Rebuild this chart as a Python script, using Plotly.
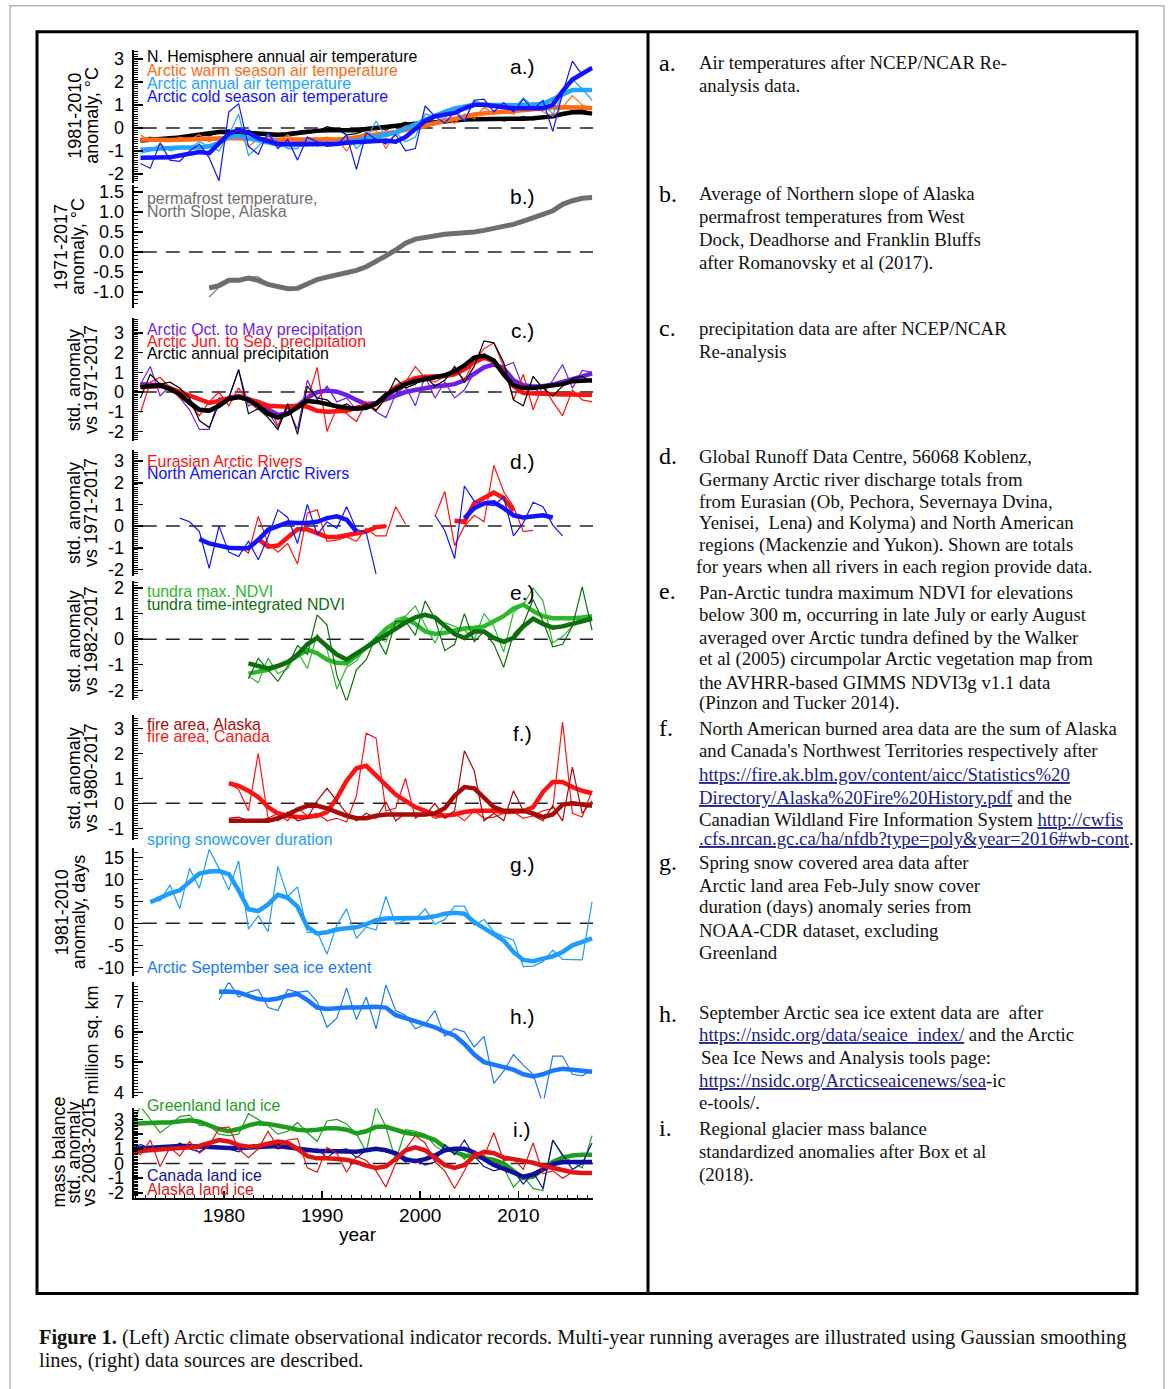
import plotly.graph_objects as go

W, H = 1168, 1389

# ======================= DATA =======================
X_TICKS = [1980, 1990, 2000, 2010]
X_TICK_LABELS = ["1980", "1990", "2000", "2010"]

# a) air temperature anomalies, 1971-2017
A_START = 1971
nh_air = [-0.55, -0.4, -0.6, -0.5, -0.35, -0.45, -0.3, -0.35, -0.2, -0.1,
          -0.25, -0.1, -0.3, -0.35, -0.35, -0.2, -0.15, -0.1, -0.15, 0.05,
          -0.05, -0.3, -0.25, -0.1, 0.05, -0.1, 0.1, 0.25, 0.1, 0.1,
          0.25, 0.3, 0.35, 0.3, 0.45, 0.4, 0.45, 0.3, 0.35, 0.5,
          0.35, 0.45, 0.45, 0.55, 0.75, 0.8, 0.6]
nh_air_s = [-0.55, -0.52, -0.5, -0.47, -0.42, -0.35, -0.28, -0.22, -0.18, -0.17,
            -0.2, -0.25, -0.28, -0.3, -0.3, -0.28, -0.22, -0.17, -0.13, -0.1,
            -0.1, -0.12, -0.1, -0.05, 0.0, 0.05, 0.1, 0.15, 0.18, 0.2,
            0.25, 0.3, 0.33, 0.36, 0.38, 0.38, 0.37, 0.36, 0.37, 0.4,
            0.42, 0.45, 0.5, 0.6, 0.68, 0.68, 0.62]
warm_air = [-0.3, -0.6, -0.5, -0.6, -0.4, -0.5, -0.3, -0.6, -0.4, -0.4,
            -0.3, -0.8, -0.5, -0.6, -0.6, -0.3, -0.6, -0.5, -0.5, -0.4,
            -0.5, -1.0, -0.4, -0.2, -0.1, -0.9, -0.2, 0.1, -0.1, 0.0,
            0.2, 0.4, 0.2, 0.6, 0.4, 0.9, 0.6, 0.7, 0.6, 0.9,
            1.1, 0.7, 0.5, 0.9, 1.4, 1.0, 0.8]
warm_air_s = [-0.5, -0.52, -0.53, -0.53, -0.52, -0.5, -0.5, -0.5, -0.48, -0.45,
              -0.45, -0.47, -0.5, -0.52, -0.52, -0.5, -0.5, -0.5, -0.52, -0.52,
              -0.5, -0.47, -0.42, -0.37, -0.32, -0.27, -0.18, -0.08, 0.02, 0.12,
              0.22, 0.32, 0.42, 0.52, 0.58, 0.63, 0.67, 0.7, 0.72, 0.77,
              0.82, 0.85, 0.88, 0.9, 0.9, 0.88, 0.85]
ann_air = [-1.1, -1.0, -0.7, -1.0, -0.9, -0.9, -0.6, -0.8, -1.0, -0.3,
           0.6, -1.2, -0.8, -0.3, -0.6, -0.9, -0.9, -0.4, -0.8, -0.6,
           -0.7, -0.3, -0.9, -0.5, 0.3, -0.4, -0.2, -0.6, -0.4, 0.6,
           0.5, 0.4, 0.9, 0.3, 1.2, 1.0, 0.9, 1.0, 0.8, 1.3,
           0.95, 1.1, 0.6, 1.4, 2.1, 1.7, 1.2]
ann_air_s = [-0.95, -0.92, -0.9, -0.88, -0.85, -0.85, -0.85, -0.8, -0.65, -0.4,
             -0.35, -0.45, -0.55, -0.65, -0.72, -0.75, -0.75, -0.72, -0.7, -0.7,
             -0.68, -0.62, -0.55, -0.48, -0.4, -0.3, -0.2, -0.05, 0.15, 0.35,
             0.55, 0.7, 0.85, 0.95, 1.0, 1.0, 0.98, 0.97, 0.98, 1.0,
             1.0, 1.05, 1.25, 1.5, 1.65, 1.65, 1.65]
cold_air = [-1.55, -1.75, -0.65, -1.4, -1.45, -1.0, -0.7, -1.3, -2.3, 0.7,
            1.05, -0.8, -1.15, -0.2, -0.9, -0.5, -1.4, -0.4, -0.6, -0.8,
            -0.75, -0.3, -1.8, -0.2, -0.5, -0.7, -0.3, -1.0, -0.9, 0.95,
            0.5, 0.2, 0.7, 0.3, 1.2, 1.25, 0.7, 1.1, 0.7, 1.25,
            0.8, 1.2, -0.15, 1.5, 2.9, 2.3, 2.65]
cold_air_s = [-1.3, -1.3, -1.3, -1.28, -1.2, -1.1, -1.05, -1.1, -0.7, -0.25,
              -0.1, -0.2, -0.45, -0.6, -0.7, -0.7, -0.7, -0.68, -0.68, -0.7,
              -0.7, -0.65, -0.62, -0.62, -0.6, -0.55, -0.6, -0.4, -0.05, 0.3,
              0.5, 0.6, 0.65, 0.85, 1.0, 1.0, 0.95, 0.88, 0.85, 0.85,
              0.85, 0.85, 1.0, 1.6, 2.1, 2.35, 2.6]

# b) permafrost temperature, 1978-2017
B_START = 1978
perma = [-1.13, -0.88, -0.75, -0.68, -0.62, -0.62, -0.8, -0.88, -0.92, -0.9,
         -0.8, -0.7, -0.63, -0.58, -0.56, -0.5, -0.38, -0.25, -0.1, 0.05,
         0.22, 0.33, 0.37, 0.41, 0.44, 0.46, 0.47, 0.5, 0.55, 0.58,
         0.62, 0.69, 0.77, 0.85, 0.94, 1.03, 1.2, 1.27, 1.33, 1.37]
perma_s = [-0.9, -0.84, -0.71, -0.71, -0.65, -0.71, -0.81, -0.88, -0.92, -0.91,
           -0.81, -0.69, -0.63, -0.58, -0.54, -0.46, -0.37, -0.25, -0.1, 0.05,
           0.22, 0.32, 0.37, 0.41, 0.44, 0.46, 0.47, 0.5, 0.54, 0.58,
           0.62, 0.69, 0.77, 0.84, 0.94, 1.03, 1.19, 1.28, 1.34, 1.36]

# c) precipitation, 1971-2017
C_START = 1971
prec_octmay = [0.4, 1.3, -0.2, 0.3, -0.3, -0.9, -1.9, -1.9, -0.3, -0.3,
               1.1, -0.7, -0.5, -1.0, -1.8, -0.8, -1.9, 0.6, -0.4, 0.3,
               -0.5, -0.3, -0.9, -0.6, -1.0, -1.3, -0.1, 0.3, -0.7, 0.8,
               -0.3, 0.5, -0.3, 0.1, 1.0, 1.2, 1.5, 1.3, 1.5, 0.2,
               0.2, -0.1, 0.6, 1.4, 0.2, 1.1, 1.0]
prec_octmay_s = [0.4, 0.38, 0.35, 0.2, -0.1, -0.5, -0.9, -0.95, -0.7, -0.3,
                 -0.2, -0.35, -0.6, -0.9, -1.15, -1.1, -0.7, -0.3, 0.0, 0.08,
                 0.02, -0.15, -0.4, -0.62, -0.55, -0.35, -0.15, 0.0, 0.1, 0.2,
                 0.28, 0.33, 0.4, 0.6, 0.95, 1.25, 1.4, 1.2, 0.6, 0.35,
                 0.28, 0.3, 0.38, 0.5, 0.65, 0.8, 0.95]
prec_junsep = [-1.05, 0.5, 0.75, 0.2, -0.3, -0.6, -1.2, -0.5, 0.0, -0.7,
               0.2, -0.5, -0.9, -0.6, -1.7, -0.6, -0.9, -0.4, 1.25, -2.0,
               -0.8, -1.1, -1.5, -0.5, -0.9, -0.3, 0.2, 0.5, 1.3, 0.7,
               0.5, 0.8, 1.2, 0.6, 1.6, 2.2, 2.5, 1.3, -0.4, 0.9,
               -0.9, 0.4, -0.5, -1.2, 0.1, -0.4, -0.5]
prec_junsep_s = [0.25, 0.28, 0.3, 0.2, 0.0, -0.2, -0.4, -0.55, -0.45, -0.3,
                 -0.25, -0.35, -0.5, -0.7, -0.75, -0.75, -0.68, -0.75, -0.95, -1.0,
                 -0.98, -0.95, -0.8, -0.7, -0.6, -0.15, 0.25, 0.5, 0.7, 0.78,
                 0.8, 0.82, 0.9, 1.15, 1.5, 1.75, 1.55, 0.9, 0.3, -0.05,
                 -0.08, -0.1, -0.1, -0.12, -0.13, -0.15, -0.15]
prec_ann = [-0.3, 0.9, 0.4, 0.5, 0.2, -0.3, -1.45, -1.8, -0.6, -0.3,
            1.15, -1.1, -0.85, -1.3, -1.9, -0.6, -2.15, 0.3, -0.3, -0.4,
            -0.8, -0.6, -0.9, -0.6, -0.95, -0.3, 0.7, 0.2, 0.4, 0.8,
            0.3, 0.6, 1.3, 0.5, 1.3, 2.6, 2.5, 1.5, -0.4, -0.7,
            0.8, 0.2, -0.2, 0.3, 0.7, 0.8, 0.5]
prec_ann_s = [0.25, 0.3, 0.35, 0.15, -0.1, -0.55, -0.9, -0.95, -0.7, -0.35,
              -0.25, -0.4, -0.7, -1.1, -1.3, -1.1, -0.8, -0.45, -0.5, -0.62,
              -0.72, -0.8, -0.85, -0.8, -0.6, -0.15, 0.15, 0.4, 0.55, 0.65,
              0.72, 0.85, 1.05, 1.35, 1.75, 1.85, 1.6, 0.9, 0.35, 0.2,
              0.2, 0.25, 0.3, 0.4, 0.55, 0.58, 0.6]

# d) river discharge, 1975-2017 (None = no data)
D_START = 1975
nam_riv = [0.37, 0.2, -0.25, -1.95, 0.0, -1.2, -1.4, -0.7, -1.55, -0.5,
           0.75, 0.4, -0.8, 1.0, -0.4, 0.2, -0.1, 0.9, -0.15, -0.3,
           -2.2, None, None, None, None, None, 0.5, -0.2, -1.5, 1.85,
           1.15, 1.0, 0.95, 1.35, -0.45, 0.15, 1.1, 0.9, 0.05, -0.45,
           None, None, None]
nam_riv_s = [None, None, -0.6, -0.8, -0.9, -1.0, -1.02, -1.02, -0.63, -0.17,
             0.0, 0.17, 0.14, 0.14, 0.2, 0.37, 0.45, 0.3, -0.25, None,
             None, None, None, None, None, None, None, None, None, 0.37,
             0.83, 1.05, 1.1, 0.83, 0.5, 0.4, 0.45, 0.5, 0.4, None,
             None, None, None]
eur_riv = [None, None, None, None, None, None, -0.9, -1.25, 0.45, -0.8,
           -1.2, -0.8, -1.75, 0.6, 0.75, -0.7, -0.65, -0.5, -0.7, -0.1,
           -0.45, -0.45, 0.9, 0.1, None, None, 0.45, 1.6, -0.9, 0.0,
           0.5, 0.2, 2.8, 1.6, 0.9, -0.25, -0.2, None, None, None,
           None, None, None]
eur_riv_s = [None, None, None, None, None, None, None, None, -0.6, -0.95,
             -0.9, -0.55, -0.15, -0.15, -0.3, -0.5, -0.5, -0.4, -0.35, -0.25,
             -0.05, 0.0, None, None, None, None, None, None, 0.25, 0.2,
             1.05, 1.3, 1.55, 1.3, 0.7, None, None, None, None, None,
             None, None, None]

# e) tundra NDVI, 1982-2017
E_START = 1982
ndvi_max = [-1.45, -1.7, -0.75, -1.35, -1.15, -0.5, -1.15, 0.2, -0.4, -1.95,
            -1.1, -0.85, -0.27, 0.05, -0.1, 0.8, 0.9, 1.3, 0.55, -0.15,
            0.65, 0.5, 0.35, 0.0, 1.0, 0.5, -0.5, 1.05, 1.35, 2.0,
            1.5, -0.15, 0.1, 0.5, 0.9, 0.75]
ndvi_max_s = [-1.35, -1.28, -1.2, -1.05, -0.9, -0.65, -0.42, -0.55, -0.8, -0.92,
              -0.95, -0.65, -0.35, 0.0, 0.4, 0.65, 0.8, 0.6, 0.3, 0.2,
              0.25, 0.35, 0.42, 0.45, 0.5, 0.7, 0.9, 1.2, 1.35, 1.1,
              0.9, 0.82, 0.8, 0.82, 0.85, 0.9]
ndvi_ti = [-1.55, -0.75, -1.2, -1.65, -1.05, -0.25, -0.6, 0.95, 0.55, -1.4,
           -2.45, -1.2, -0.8, 0.1, -0.6, 0.7, 0.7, 0.15, 1.5, 0.8,
           -0.45, -0.2, 1.0, -0.1, 0.3, -0.2, -1.1, 0.2, 0.6, 1.55,
           0.7, -0.3, -0.2, 0.5, 2.05, 0.35]
ndvi_ti_s = [-0.95, -1.05, -1.15, -1.05, -0.9, -0.6, -0.2, 0.05, -0.3, -0.6,
             -0.8, -0.55, -0.3, -0.05, 0.15, 0.4, 0.65, 0.85, 0.95, 0.85,
             0.5, 0.2, 0.05, 0.3, 0.3, 0.05, -0.1, 0.05, 0.5, 0.8,
             0.6, 0.45, 0.5, 0.6, 0.7, 0.8]

# f) fire area, 1980-2017
F_START = 1980
fire_ak = [-0.6, -0.55, -0.7, -0.7, -0.6, -0.7, -0.35, -0.7, -0.6, 0.1,
           0.6, 0.1, -0.4, -0.7, -0.4, -0.6, 0.05, -0.7, -0.4, -0.5,
           -0.5, 0.0, -0.6, -0.3, 2.1, 1.3, -0.7, -0.4, -0.7, 0.5,
           -0.3, -0.5, -0.7, -0.1, -0.7, 1.45, -0.4, 0.1]
fire_ak_s = [-0.7, -0.7, -0.72, -0.72, -0.7, -0.6, -0.45, -0.25, -0.1, -0.1,
             -0.2, -0.35, -0.5, -0.6, -0.6, -0.5, -0.45, -0.45, -0.45, -0.45,
             -0.45, -0.4, -0.2, 0.3, 0.65, 0.6, 0.2, -0.15, -0.3, -0.3,
             -0.3, -0.4, -0.55, -0.45, -0.05, 0.0, -0.05, -0.1]
fire_ca = [0.8, 0.55, -0.3, 2.0, -0.6, -0.4, -0.7, -0.2, -0.5, -0.4,
           -0.7, -0.6, -0.75, 0.3, 2.8, 2.6, -0.3, -0.2, 1.0, -0.6,
           -0.35, -0.6, -0.5, -0.4, -0.7, -0.3, -0.6, -0.55, -0.4, -0.35,
           -0.6, -0.5, -0.3, -0.2, 3.25, -0.4, -0.55, 0.5]
fire_ca_s = [0.8, 0.7, 0.5, 0.25, -0.15, -0.4, -0.5, -0.55, -0.55, -0.5,
             -0.35, 0.2, 0.9, 1.4, 1.5, 1.1, 0.7, 0.35, 0.1, -0.15,
             -0.3, -0.45, -0.5, -0.45, -0.35, -0.3, -0.3, -0.3, -0.35, -0.35,
             -0.32, -0.15, 0.45, 0.85, 0.85, 0.65, 0.5, 0.4]

# g) spring snow cover duration anomaly, 1972-2017
G_START = 1972
snow = [5.3, 5.1, 8.7, 3.3, 12.5, 8.0, 16.8, 12.5, 7.6, 14.2,
        -1.3, 1.7, -1.9, 12.9, 6.1, 8.3, -2.1, -1.9, -7.0, -0.4,
        3.3, -3.4, -0.8, -1.5, 6.1, -0.2, 0.8, 0.9, 3.3, -0.2,
        0.9, 3.9, 3.9, -0.4, 0.9, -1.9, -3.0, -3.8, -9.8, -9.7,
        -8.7, -6.1, -8.2, -8.2, -8.3, 4.9]
snow_s = [4.8, 5.8, 6.8, 7.5, 9.5, 11.3, 11.8, 11.9, 11.2, 7.5,
          3.2, 2.8, 4.3, 6.5, 5.8, 3.8, -0.8, -2.3, -2.0, -1.4,
          -1.1, -0.9, -0.2, 0.7, 1.1, 1.1, 1.1, 1.1, 1.3, 1.6,
          2.2, 2.4, 2.2, 0.3, -1.0, -2.5, -3.9, -6.5, -8.3, -8.6,
          -8.0, -7.5, -6.5, -5.0, -4.2, -3.4]

# h) September sea ice extent (million sq. km), 1979-2017
H_START = 1979
seaice = [7.05, 7.65, 7.15, 7.3, 7.4, 6.8, 6.7, 7.4, 7.3, 7.35,
          7.0, 6.15, 6.45, 7.45, 6.4, 7.15, 6.1, 7.55, 6.7, 6.55,
          6.1, 6.25, 6.7, 5.85, 6.1, 6.0, 5.5, 5.85, 4.3, 4.7,
          5.25, 4.9, 4.6, 3.6, 5.2, 5.2, 4.6, 4.55, 4.75]
seaice_s = [7.32, 7.33, 7.3, 7.2, 7.08, 7.05, 7.1, 7.2, 7.25, 7.05,
            6.8, 6.75, 6.78, 6.8, 6.8, 6.82, 6.83, 6.8, 6.55, 6.45,
            6.35, 6.25, 6.15, 6.0, 5.88, 5.6, 5.25, 5.0, 4.92, 4.85,
            4.75, 4.6, 4.53, 4.6, 4.72, 4.78, 4.75, 4.7, 4.68]

# i) land ice mass balance, 1970-2017
I_START = 1970
gris = [2.4, 3.9, 3.0, 2.1, 2.6, 3.2, 3.3, 2.6, 2.6, 2.0,
        1.9, 2.0, 3.4, 3.0, 2.6, 2.0, 2.2, 2.8, 2.1, 1.5,
        2.9, 3.0, 2.7, 2.0, 0.8, 3.9, 2.5, 0.2, 2.3, 2.2,
        2.0, 1.2, 0.8, 1.0, 0.3, 0.8, 0.4, 0.2, -0.3, -1.6,
        -0.9, -1.7, -1.85, 1.6, 0.5, 0.1, -0.3, 1.9]
gris_s = [2.7, 2.75, 2.75, 2.8, 2.8, 2.9, 2.95, 2.85, 2.6, 2.35,
          2.2, 2.35, 2.6, 2.75, 2.7, 2.6, 2.45, 2.3, 2.25, 2.3,
          2.4, 2.4, 2.3, 2.05, 2.2, 2.5, 2.5, 2.3, 2.1, 2.0,
          1.85, 1.6, 1.1, 0.8, 0.55, 0.5, 0.4, 0.25, 0.0, -0.5,
          -1.0, -0.9, -0.4, 0.1, 0.4, 0.55, 0.6, 0.6]
can_ice = [0.9, 1.3, 1.0, 1.2, 0.9, 1.4, 1.0, 0.8, 1.2, 1.1,
           1.0, 0.8, 1.2, 1.0, 1.3, 1.0, 1.2, 1.0, 0.8, 1.0,
           0.4, 0.9, 1.0, 0.4, 0.9, 1.1, 0.8, 0.6, 0.1, 0.3,
           -0.1, 0.1, 1.3, 0.6, 1.6, 0.5, -0.2, -0.5, -0.3, -0.5,
           -1.4, -0.6, -1.7, 1.6, 0.6, -0.4, 0.0, 1.4]
can_ice_s = [1.0, 1.05, 1.1, 1.1, 1.15, 1.2, 1.2, 1.15, 1.1, 1.1,
             1.05, 1.05, 1.1, 1.15, 1.2, 1.2, 1.1, 1.0, 0.9, 0.85,
             0.85, 0.85, 0.8, 0.8, 0.9, 1.0, 0.9, 0.7, 0.3, 0.15,
             0.3, 0.55, 0.9, 1.0, 1.0, 0.75, 0.3, -0.1, -0.35, -0.6,
             -0.9, -0.75, -0.4, -0.05, 0.1, 0.1, 0.1, 0.1]
ak_ice = [1.0, 0.6, 1.6, -0.2, 1.1, 0.5, 1.5, 0.7, 1.2, 2.4,
          2.5, 1.0, 0.4, 1.0, 2.2, 1.1, 1.6, 1.7, -0.3, -0.6,
          1.1, 0.7, -0.6, 0.5, 0.2, -0.5, -1.6, 0.0, 1.0, 1.9,
          1.4, 0.1, -0.5, -1.7, -0.5, 0.8, 0.5, 2.1, 0.2, 0.3,
          -0.4, 1.4, -0.7, -0.5, -1.0, -0.6, -0.7, -0.7]
ak_ice_s = [0.8, 0.85, 0.9, 0.9, 0.95, 1.0, 1.1, 1.2, 1.4, 1.6,
            1.5, 1.25, 1.15, 1.2, 1.35, 1.5, 1.4, 1.0, 0.5, 0.35,
            0.35, 0.3, 0.25, 0.1, -0.15, -0.3, -0.2, 0.3, 0.9, 1.1,
            0.9, 0.4, -0.1, -0.3, -0.1, 0.5, 0.8, 0.7, 0.4, 0.3,
            0.2, 0.05, -0.15, -0.3, -0.45, -0.6, -0.65, -0.65]

# y tick values / labels per panel
TICKS_STD = [-2, -1, 0, 1, 2, 3]
LABELS_STD = ["-2", "-1", "0", "1", "2", "3"]
TICKS_B = [-1.0, -0.5, 0.0, 0.5, 1.0, 1.5]
LABELS_B = ["-1.0", "-0.5", "0.0", "0.5", "1.0", "1.5"]
TICKS_E = [-2, -1, 0, 1, 2]
LABELS_E = ["-2", "-1", "0", "1", "2"]
TICKS_F = [-1, 0, 1, 2, 3]
LABELS_F = ["-1", "0", "1", "2", "3"]
TICKS_G = [-10, -5, 0, 5, 10, 15]
LABELS_G = ["-10", "-5", "0", "5", "10", "15"]
TICKS_H = [4, 5, 6, 7]
LABELS_H = ["4", "5", "6", "7"]

# ======================= STYLE =======================
SANS = "Liberation Sans, Arial, Helvetica, sans-serif"
SERIF = "Liberation Serif, Times New Roman, serif"

C_BLACK = "#000000"
C_ORANGE = "#ff6a14"
C_LBLUE = "#22a4ff"
C_BLUE = "#1212ff"
C_GRAY = "#6e6e6e"
C_PURPLE = "#6e1fe6"
C_RED = "#ff1212"
C_LGREEN = "#2cb82c"
C_DGREEN = "#0c6e0c"
C_DRED = "#a80a0a"
C_SNOW = "#1e9cff"
C_ICE = "#1a78ff"
C_GRIS = "#1c9e1c"
C_NAVY = "#10109c"
C_AKRED = "#e01414"
C_LINK = "#20208c"

THIN, THICK = 1.2, 4.5

# small vertical correction so that rendered pixel rows match the reference
V_OFF, V_SCALE = 3.2, 0.9929


def xp(px):
    return px / W


def yp(py):
    return 1 - ((py - V_OFF) / V_SCALE) / H


# panel layout: pixel top/bottom of each axis, value range, ticks
panels = [
    dict(top=50, bot=183, rng=[-2.39, 3.39], tv=TICKS_STD, tt=LABELS_STD, minor=0.1),
    dict(top=185, bot=308, rng=[-1.4, 1.675], tv=TICKS_B, tt=LABELS_B, minor=0.1),
    dict(top=318, bot=441, rng=[-2.49, 3.76], tv=TICKS_STD, tt=LABELS_STD, minor=0.1),
    dict(top=450, bot=576, rng=[-2.31, 3.51], tv=TICKS_STD, tt=LABELS_STD, minor=0.1),
    dict(top=581, bot=700, rng=[-2.39, 2.27], tv=TICKS_E, tt=LABELS_E, minor=0.1),
    dict(top=715, bot=840, rng=[-1.48, 3.52], tv=TICKS_F, tt=LABELS_F, minor=0.1),
    dict(top=848, bot=976, rng=[-12.05, 17.05], tv=TICKS_G, tt=LABELS_G, minor=1),
    dict(top=982, bot=1098, rng=[3.8, 7.63], tv=TICKS_H, tt=LABELS_H, minor=0.1),
    dict(top=1108, bot=1197, rng=[-2.32, 3.75], tv=TICKS_STD, tt=LABELS_STD, minor=0.1),
]


def yname(i):
    return "y" if i == 0 else f"y{i + 1}"


fig = go.Figure()


def add(i, start, vals, color, width):
    xs = [start + k + 0.5 for k in range(len(vals))]  # annual values at mid-year
    fig.add_trace(go.Scatter(x=xs, y=vals, mode="lines", xaxis="x", yaxis=yname(i),
                             line=dict(color=color, width=width), connectgaps=False,
                             showlegend=False, hoverinfo="skip"))


# a
for raw, sm, col in [(nh_air, nh_air_s, C_BLACK), (warm_air, warm_air_s, C_ORANGE),
                     (ann_air, ann_air_s, C_LBLUE), (cold_air, cold_air_s, C_BLUE)]:
    add(0, A_START, raw, col, THIN)
    add(0, A_START, sm, col, THICK)
# b
add(1, B_START, perma, C_GRAY, THIN)
add(1, B_START, perma_s, C_GRAY, 5)
# c
for raw, sm, col in [(prec_octmay, prec_octmay_s, C_PURPLE), (prec_junsep, prec_junsep_s, C_RED),
                     (prec_ann, prec_ann_s, C_BLACK)]:
    add(2, C_START, raw, col, THIN)
    add(2, C_START, sm, col, THICK)
# d
for raw, sm, col in [(eur_riv, eur_riv_s, C_RED), (nam_riv, nam_riv_s, C_BLUE)]:
    add(3, D_START, raw, col, THIN)
    add(3, D_START, sm, col, THICK)
# e
for raw, sm, col in [(ndvi_max, ndvi_max_s, C_LGREEN), (ndvi_ti, ndvi_ti_s, C_DGREEN)]:
    add(4, E_START, raw, col, THIN)
    add(4, E_START, sm, col, THICK)
# f
for raw, sm, col in [(fire_ca, fire_ca_s, C_RED), (fire_ak, fire_ak_s, C_DRED)]:
    add(5, F_START, raw, col, THIN)
    add(5, F_START, sm, col, THICK)
# g
add(6, G_START, snow, C_SNOW, THIN)
add(6, G_START, snow_s, C_SNOW, THICK)
# h
add(7, H_START, seaice, C_ICE, THIN)
add(7, H_START, seaice_s, C_ICE, THICK)
# i
for raw, sm, col in [(gris, gris_s, C_GRIS), (can_ice, can_ice_s, C_NAVY), (ak_ice, ak_ice_s, C_AKRED)]:
    add(8, I_START, raw, col, THIN)
    add(8, I_START, sm, col, THICK)

X_LEFT, X_RIGHT = 133.6, 593.0
layout = dict(
    width=W, height=H, margin=dict(l=0, r=0, t=0, b=0),
    paper_bgcolor="white", plot_bgcolor="rgba(0,0,0,0)",
    showlegend=False, font=dict(family=SANS, color="black"),
    xaxis=dict(domain=[xp(X_LEFT), xp(X_RIGHT)], range=[1970.8, 2017.6], anchor="y9",
               showline=True, linecolor="black", linewidth=2, mirror=False,
               tickmode="array", tickvals=X_TICKS, ticktext=X_TICK_LABELS,
               ticks="inside", ticklen=7, tickwidth=1.5, tickcolor="black",
               minor=dict(ticks="inside", dtick=1, ticklen=3, tickcolor="black", tickwidth=1),
               tickfont=dict(size=19, family=SANS), showgrid=False, zeroline=False,
               fixedrange=True),
)
shapes = []
for i, p in enumerate(panels):
    key = "yaxis" if i == 0 else f"yaxis{i + 1}"
    layout[key] = dict(
        domain=[yp(p["bot"]), yp(p["top"])], range=p["rng"], anchor="x",
        showline=True, linecolor="black", linewidth=2,
        tickmode="array", tickvals=p["tv"], ticktext=p["tt"],
        ticks="inside", ticklen=9, tickwidth=1.5, tickcolor="black",
        minor=dict(ticks="inside", dtick=p["minor"], tick0=0, ticklen=4,
                   tickcolor="black", tickwidth=1, showgrid=False),
        tickfont=dict(size=18, family=SANS), ticklabelstandoff=4,
        showgrid=False, zeroline=False, fixedrange=True,
    )
    if i != 7:
        shapes.append(dict(type="line", xref="x domain", x0=0.02, x1=1,
                           yref=yname(i), y0=0, y1=0, layer="below",
                           line=dict(color="#222222", width=1.5, dash="14px,9px")))

# frames
shapes.append(dict(type="rect", xref="paper", yref="paper", x0=xp(10), x1=xp(1164),
                   y0=-0.02, y1=yp(6), line=dict(color="#b4b4b4", width=1.5)))
shapes.append(dict(type="rect", xref="paper", yref="paper", x0=xp(37), x1=xp(1137),
                   y0=yp(1293), y1=yp(32), line=dict(color="black", width=3)))
shapes.append(dict(type="line", xref="paper", yref="paper", x0=xp(648), x1=xp(648),
                   y0=yp(1293), y1=yp(32), line=dict(color="black", width=3)))
layout["shapes"] = shapes

ann = []


def text(x, y, s, size=15.9, color="black", family=SANS, xanchor="left", angle=0):
    ann.append(dict(x=xp(x), y=yp(y), xref="paper", yref="paper", text=s, showarrow=False,
                    xanchor=xanchor, yanchor="middle", textangle=angle,
                    font=dict(size=size, color=color, family=family)))


# in-panel legends
LX = 145
text(LX, 57, "N. Hemisphere annual air temperature", color=C_BLACK)
text(LX, 71, "Arctic warm season air temperature", color=C_ORANGE)
text(LX, 84, "Arctic annual air temperature", color=C_LBLUE)
text(LX, 97, "Arctic cold season air temperature", color=C_BLUE)
text(LX, 199, "permafrost temperature,", color=C_GRAY)
text(LX, 212, "North Slope, Alaska", color=C_GRAY)
text(LX, 329, "Arctic Oct. to May precipitation", color=C_PURPLE)
text(LX, 341, "Arctic Jun. to Sep. precipitation", color=C_RED)
text(LX, 353, "Arctic annual precipitation", color=C_BLACK)
text(LX, 461, "Eurasian Arctic Rivers", color=C_RED)
text(LX, 473, "North American Arctic Rivers", color=C_BLUE)
text(LX, 591, "tundra max. NDVI", color=C_LGREEN)
text(LX, 604, "tundra time-integrated NDVI", color=C_DGREEN)
text(LX, 724, "fire area, Alaska", color=C_DRED)
text(LX, 736, "fire area, Canada", color=C_RED)
text(LX, 839, "spring snowcover duration", color=C_SNOW)
text(LX, 967, "Arctic September sea ice extent", color=C_ICE)
text(LX, 1105, "Greenland land ice", color=C_GRIS)
text(LX, 1175, "Canada land ice", color=C_NAVY)
text(LX, 1189, "Alaska land ice", color=C_AKRED)

# panel letters
for lab, y in [("a.)", 67), ("b.)", 197), ("c.)", 330), ("d.)", 461), ("e.)", 592),
               ("f.)", 733), ("g.)", 864), ("h.)", 1016), ("i.)", 1129)]:
    text(522, y, lab, size=21, xanchor="center")

# rotated y-axis titles (one annotation per line)
TS = 18
for lines, xs, yc in [
    (["1981-2010", "anomaly, °C"], [75, 92], 116),
    (["1971-2017", "anomaly, °C"], [61, 78], 247),
    (["std. anomaly", "vs 1971-2017"], [74, 91], 380),
    (["std. anomaly", "vs 1971-2017"], [74, 91], 513),
    (["std. anomaly", "vs 1982-2017"], [74, 91], 641),
    (["std. anomaly", "vs 1980-2017"], [74, 91], 778),
    (["1981-2010", "anomaly, days"], [62, 79], 912),
    (["million sq. km"], [92], 1040),
    (["mass balance", "std. anomaly", "vs 2003-2015"], [59, 74, 89], 1152),
]:
    for s, x in zip(lines, xs):
        text(x, yc, s, size=TS, xanchor="center", angle=-90)

text(358, 1234, "year", size=19, xanchor="center")

# right-hand descriptions
RX, LAB_X, RS = 697, 657, 18.8


def link(s):
    return f'<span style="color:{C_LINK};text-decoration:underline">{s}</span>'


for lab, y in [("a.", 63), ("b.", 194), ("c.", 328), ("d.", 456), ("e.", 591),
               ("f.", 728), ("g.", 862), ("h.", 1014), ("i.", 1127)]:
    text(LAB_X, y, lab, size=24, family=SERIF)

desc = [
    (63, "Air temperatures after NCEP/NCAR Re-"),
    (86, "analysis data."),
    (194, "Average of Northern slope of Alaska"),
    (217, "permafrost temperatures from West"),
    (240, "Dock, Deadhorse and Franklin Bluffs"),
    (263, "after Romanovsky et al (2017)."),
    (328, "precipitation data are after NCEP/NCAR"),
    (351, "Re-analysis"),
    (456, "Global Runoff Data Centre, 56068 Koblenz,"),
    (479, "Germany Arctic river discharge totals from"),
    (502, "from Eurasian (Ob, Pechora, Severnaya Dvina,"),
    (523, "Yenisei,  Lena) and Kolyma) and North American"),
    (545, "regions (Mackenzie and Yukon). Shown are totals"),
    (592, "Pan-Arctic tundra maximum NDVI for elevations"),
    (614, "below 300 m, occurring in late July or early August"),
    (637, "averaged over Arctic tundra defined by the Walker"),
    (659, "et al (2005) circumpolar Arctic vegetation map from"),
    (682, "the AVHRR-based GIMMS NDVI3g v1.1 data"),
    (703, "(Pinzon and Tucker 2014)."),
    (728, "North American burned area data are the sum of Alaska"),
    (750, "and Canada's Northwest Territories respectively after"),
    (774, link("https://fire.ak.blm.gov/content/aicc/Statistics%20")),
    (797, link("Directory/Alaska%20Fire%20History.pdf") + " and the"),
    (819, "Canadian Wildland Fire Information System " + link("http://cwfis")),
    (838, link(".cfs.nrcan.gc.ca/ha/nfdb?type=poly&amp;year=2016#wb-cont") + "."),
    (862, "Spring snow covered area data after"),
    (885, "Arctic land area Feb-July snow cover"),
    (907, "duration (days) anomaly series from"),
    (930, "NOAA-CDR dataset, excluding"),
    (952, "Greenland"),
    (1012, "September Arctic sea ice extent data are  after"),
    (1034, link("https://nsidc.org/data/seaice_index/") + " and the Arctic"),
    (1080, link("https://nsidc.org/Arcticseaicenews/sea") + "-ic"),
    (1102, "e-tools/."),
    (1128, "Regional glacier mass balance"),
    (1151, "standardized anomalies after Box et al"),
    (1174, "(2018)."),
]
for y, s in desc:
    text(RX, y, s, size=RS, family=SERIF, color="#111111")
text(694, 566, "for years when all rivers in each region provide data.", size=RS, family=SERIF, color="#111111")
text(699, 1057, "Sea Ice News and Analysis tools page:", size=RS, family=SERIF, color="#111111")

# caption
text(37, 1337, "<b>Figure 1.</b> (Left) Arctic climate observational indicator records. "
               "Multi-year running averages are illustrated using Gaussian smoothing",
     size=20.4, family=SERIF, color="#111111")
text(37, 1360, "lines, (right) data sources are described.", size=20.4, family=SERIF, color="#111111")

layout["annotations"] = ann
fig.update_layout(**layout)

fig.write_html(
    "out.html",
    config={"displayModeBar": False, "staticPlot": True},
    post_script=("document.body.style.margin='0';"
                 "document.body.style.overflow='hidden';"
                 "document.documentElement.style.overflow='hidden';"),
)
